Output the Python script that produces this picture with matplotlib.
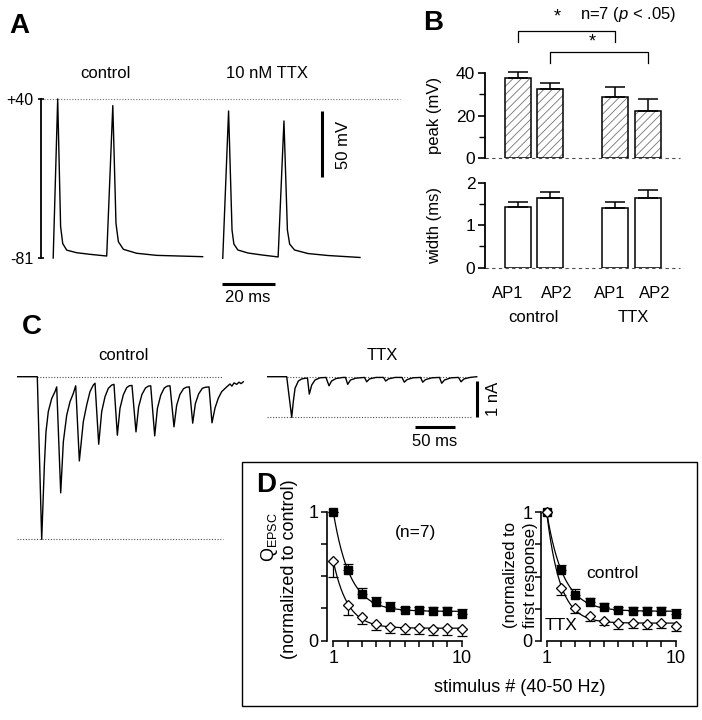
import numpy as np
import matplotlib
matplotlib.use("Agg")
import matplotlib.pyplot as plt
from matplotlib.patches import Rectangle

plt.rcParams['font.family'] = ['Liberation Sans', 'DejaVu Sans']
plt.rcParams['mathtext.fontset'] = 'custom'
plt.rcParams['mathtext.rm'] = 'Liberation Sans'
plt.rcParams['mathtext.it'] = 'Liberation Sans:italic'
plt.rcParams['hatch.linewidth'] = 0.6

# ---------------- data ----------------
# A: action potentials (time ms, membrane potential mV)
a_ctrl_t = [4.6, 6.3, 7.4, 8.2, 9.7, 13.5, 18.5, 24.8, 27.1, 28.3, 29.2, 31.1, 36.1, 43.7, 61.0]
a_ctrl_v = [-81, 40, -57, -70, -75, -77, -78.2, -79.5, 35.0, -54.6, -68.6, -74.4, -77.4, -79.0, -80.0]
a_ttx_t = [68.6, 70.8, 72.1, 72.8, 74.3, 78.1, 83.4, 89.5, 91.7, 93.0, 93.85, 95.7, 100.75, 108.3, 120.4]
a_ttx_v = [-81.2, 30.9, -59.7, -70.4, -74.9, -77.2, -78.7, -80.2, 23.3, -59.7, -70.4, -74.9, -77.6, -79.1, -80.6]
a_ticks = [-81, 40]
a_tick_labels = ['-81', '+40']

# B: AP peak and width
b_labels = ['AP1', 'AP2', 'AP1', 'AP2']
b_groups = ['control', 'TTX']
b_peak = [37.5, 32.3, 28.5, 22.1]
b_peak_err = [3.2, 2.8, 5.1, 5.7]
b_width = [1.42, 1.63, 1.41, 1.65]
b_width_err = [0.12, 0.14, 0.14, 0.18]

# C: EPSC trains (time ms, current nA)
c_ctrl_t = [0, 25.75, 31.25, 34.6, 36.6, 39.5, 43.75, 47.9, 50.0,
            55.0, 58.3, 62.5, 66.6, 70.75, 73.75,
            78.3, 83.25, 87.5, 91.6, 95.75, 97.9,
            102.5, 106.25, 110.4, 114.5, 118.75, 121.6,
            125.8, 129.1, 133.25, 137.5, 140.75, 144.1,
            149.1, 152.4, 156.5, 161.0, 164.5, 167.5,
            172.5, 175.8, 180.0, 184.5, 188.0, 191.6,
            196.6, 199.9, 204.0, 208.5, 212.0, 215.75,
            220.0, 223.3, 227.5, 232.0, 236.0, 240.4,
            244.1, 247.9, 252.0, 256.25, 262.5, 266.6, 269.0, 271.6, 275.0, 277.9, 280.4, 283.25]
c_ctrl_i = [0, 0, -4.48, -2.43, -1.52, -0.96, -0.60, -0.41, -0.28,
            -3.20, -1.79, -1.06, -0.69, -0.46, -0.25,
            -2.32, -1.24, -0.78, -0.41, -0.23, -0.18,
            -1.86, -0.96, -0.55, -0.32, -0.23, -0.21,
            -1.61, -0.87, -0.50, -0.30, -0.25, -0.24,
            -1.52, -0.83, -0.49, -0.31, -0.26, -0.25,
            -1.63, -0.88, -0.51, -0.31, -0.26, -0.25,
            -1.38, -0.79, -0.49, -0.33, -0.29, -0.28,
            -1.28, -0.74, -0.47, -0.32, -0.29, -0.28,
            -1.27, -0.86, -0.59, -0.41, -0.28, -0.20, -0.26, -0.17, -0.21, -0.15, -0.19, -0.14]
c_ttx_t = [0, 25.0, 31.25, 33.25, 35.4, 39.5, 43.75, 49.1, 51.0,
           53.25, 56.25, 60.4, 66.6, 74.1,
           77.9, 81.0, 86.6, 95.4, 98.5,
           101.25, 104.75, 111.6, 122.25,
           125.0, 128.5, 136.6, 146.0,
           148.75, 152.25, 160.4, 169.1,
           172.0, 175.4, 182.9, 192.25,
           195.0, 198.5, 206.6, 216.0,
           218.75, 222.25, 230.4, 239.75,
           242.9, 246.6, 254.1, 262.5]
c_ttx_i = [0, 0, -1.12, -0.69, -0.32, -0.12, -0.06, -0.04, -0.04,
           -0.48, -0.23, -0.09, -0.03, -0.02,
           -0.25, -0.12, -0.05, -0.02, -0.02,
           -0.21, -0.09, -0.04, -0.02,
           -0.14, -0.06, -0.02, -0.02,
           -0.12, -0.06, -0.02, -0.02,
           -0.15, -0.08, -0.03, -0.02,
           -0.15, -0.08, -0.03, -0.02,
           -0.18, -0.09, -0.03, -0.02,
           -0.14, -0.06, -0.02, 0]

# D: normalized EPSC charge
d_stim = [1, 2, 3, 4, 5, 6, 7, 8, 9, 10]
dl_ctrl = [1.0, 0.548, 0.360, 0.300, 0.261, 0.238, 0.235, 0.232, 0.232, 0.204]
dl_ctrl_err = [0, 0.047, 0.047, 0.040, 0.042, 0.026, 0.029, 0.031, 0.029, 0.044]
dl_ttx = [0.621, 0.277, 0.183, 0.133, 0.107, 0.099, 0.099, 0.091, 0.097, 0.091]
dl_ttx_err = [0.125, 0.081, 0.057, 0.047, 0.047, 0.044, 0.047, 0.044, 0.050, 0.052]
dr_ctrl = [1.0, 0.547, 0.357, 0.305, 0.260, 0.240, 0.234, 0.234, 0.234, 0.208]
dr_ctrl_err = [0, 0.044, 0.044, 0.031, 0.032, 0.020, 0.026, 0.026, 0.026, 0.037]
dr_ttx = [1.0, 0.409, 0.258, 0.193, 0.154, 0.141, 0.141, 0.128, 0.135, 0.115]
dr_ttx_err = [0, 0.052, 0.044, 0.039, 0.032, 0.050, 0.045, 0.039, 0.039, 0.037]

# ---------------- layout helpers ----------------
W, H = 702, 720
fig = plt.figure(figsize=(W / 100, H / 100), dpi=100)


def axes_px(left, top, right, bottom):
    return fig.add_axes([left / W, 1 - bottom / H, (right - left) / W, (bottom - top) / H])


def text_px(x, y, s, **kw):
    kw.setdefault('ha', 'center')
    kw.setdefault('va', 'center')
    kw.setdefault('fontsize', 12)
    fig.text(x / W, 1 - y / H, s, **kw)


def exp_fit(x, y):
    x = np.asarray(x, float)
    y = np.asarray(y, float)
    best = None
    for tau in np.linspace(0.3, 4.0, 371):
        e = np.exp(-(x - 1) / tau)
        M = np.vstack([e, np.ones_like(e)]).T
        coef = np.linalg.lstsq(M, y, rcond=None)[0]
        err = np.sum((M @ coef - y) ** 2)
        if best is None or err < best[0]:
            best = (err, tau, coef)
    _, tau, (a, c) = best
    xx = np.linspace(1, 10, 200)
    return xx, a * np.exp(-(xx - 1) / tau) + c


# ---------------- panel A ----------------
axA = axes_px(41, 99, 400, 258)
axA.set_xlim(0, 135.5)
axA.set_ylim(-81, 40)
for s in ['top', 'right', 'bottom']:
    axA.spines[s].set_visible(False)
axA.spines['left'].set_linewidth(1.3)
axA.set_xticks([])
axA.set_yticks(a_ticks)
axA.set_yticklabels(a_tick_labels, fontsize=11.5)
axA.tick_params(axis='y', direction='inout', length=5, width=1.2, pad=3)
axA.patch.set_visible(False)
axA.plot([1.1, 135.5], [40, 40], ls=(0, (1, 1.5)), color='0.45', lw=0.8, clip_on=False)
axA.plot(a_ctrl_t, a_ctrl_v, color='black', lw=1.0, clip_on=False)
axA.plot(a_ttx_t, a_ttx_v, color='black', lw=1.0, clip_on=False)
axA.plot([106, 106], [31, -19], color='black', lw=2.2, clip_on=False, solid_capstyle='butt')
axA.plot([68.3, 88.3], [-100.8, -100.8], color='black', lw=2.2, clip_on=False, solid_capstyle='butt')
text_px(19, 26, 'A', fontsize=20, fontweight='bold')
text_px(105, 74, 'control')
text_px(267, 74, '10 nM TTX')
text_px(343, 145, '50 mV', rotation=90)
text_px(248, 297, '20 ms')

# ---------------- panel B ----------------
bx = [0, 1, 3, 4]
axB1 = axes_px(485, 73, 680, 158)
axB2 = axes_px(485, 182.7, 680, 267.7)
for ax, vals, errs, ylim, major, minor, hatch in [
        (axB1, b_peak, b_peak_err, 40, [0, 20, 40], [10, 30], '////'),
        (axB2, b_width, b_width_err, 2, [0, 1, 2], [0.5, 1.5], None)]:
    ax.set_xlim(-1, 5)
    ax.set_ylim(0, ylim)
    for s in ['top', 'right', 'bottom']:
        ax.spines[s].set_visible(False)
    ax.spines['left'].set_linewidth(1.3)
    ax.set_xticks([])
    ax.set_yticks(major)
    ax.set_yticklabels([str(m) for m in major], fontsize=12.5)
    ax.set_yticks(minor, minor=True)
    ax.tick_params(axis='y', which='major', direction='out', length=5, width=1.2, pad=2)
    ax.tick_params(axis='y', which='minor', direction='out', length=4, width=1.0)
    ax.patch.set_visible(False)
    ax.plot([-1, 5], [0, 0], ls=(0, (3, 3)), color='0.3', lw=0.8, clip_on=False)
    if hatch:
        ax.bar(bx, vals, width=0.8, color='none', edgecolor='0.45', lw=0, hatch=hatch)
    ax.bar(bx, vals, width=0.8, color='none', edgecolor='black', lw=1.1)
    ax.errorbar(bx, vals, yerr=[[0] * 4, errs], fmt='none', ecolor='black',
                elinewidth=1.1, capsize=7.5, capthick=1.1, clip_on=False)
# significance brackets
axB1.plot([bx[0], bx[0], bx[2], bx[2]], [54.6, 59.8, 59.8, 54.6], color='black', lw=0.9, clip_on=False)
axB1.plot([bx[1], bx[1], bx[3], bx[3]], [44.7, 49.9, 49.9, 44.7], color='black', lw=0.9, clip_on=False)
text_px(433, 23, 'B', fontsize=20, fontweight='bold')
text_px(557, 17, '*', fontsize=13)
text_px(580, 15, 'n=7 ($p$ < .05)', ha='left')
text_px(592, 42, '*', fontsize=13)
text_px(435, 115, 'peak (mV)', rotation=90)
text_px(435, 225, 'width (ms)', rotation=90)
for xpos, lab in zip([508, 557, 610, 655], b_labels):
    text_px(xpos, 294, lab)
text_px(533, 317, b_groups[0])
text_px(633, 317, b_groups[1])

# ---------------- panel C ----------------
axC1 = axes_px(16.7, 370, 250, 545)
axC1.set_xlim(0, 291.6)
axC1.set_ylim(-4.636, 0.185)
axC1.axis('off')
axC1.plot([25.75, 258.25], [0, 0], ls=(0, (1, 1.5)), color='0.3', lw=0.8)
axC1.plot([0, 258.25], [c_ctrl_i[2], c_ctrl_i[2]], ls=(0, (1, 1.5)), color='0.3', lw=0.8)
axC1.plot(c_ctrl_t, c_ctrl_i, color='black', lw=1.0)

axC2 = axes_px(266.7, 370, 490, 450)
axC2.set_xlim(0, 279.1)
axC2.set_ylim(-2.02, 0.185)
axC2.axis('off')
axC2.plot([25, 256.25], [0, 0], ls=(0, (1, 1.5)), color='0.3', lw=0.8)
axC2.plot([0, 256.25], [c_ttx_i[2], c_ttx_i[2]], ls=(0, (1, 1.5)), color='0.3', lw=0.8)
axC2.plot(c_ttx_t, c_ttx_i, color='black', lw=1.0)
axC2.plot([263.25, 263.25], [-0.12, -1.12], color='black', lw=2.2, clip_on=False, solid_capstyle='butt')
axC2.plot([185.4, 235.4], [-1.39, -1.39], color='black', lw=2.2, clip_on=False, solid_capstyle='butt')
text_px(32, 327, 'C', fontsize=20, fontweight='bold')
text_px(123, 355, 'control')
text_px(382, 355, 'TTX')
text_px(494, 399, '1 nA', rotation=90)
text_px(435, 441, '50 ms')

# ---------------- panel D ----------------
overlay = fig.add_axes([0, 0, 1, 1])
overlay.set_xlim(0, W)
overlay.set_ylim(H, 0)
overlay.axis('off')
overlay.add_patch(Rectangle((242, 462), 455, 244, fill=False, edgecolor='black', lw=1.0))


def panel_d(ax, xl, ctrl, ctrl_err, ttx, ttx_err):
    ax.set_xlim(xl, 10.3)
    ax.set_ylim(0, 1)
    ax.patch.set_visible(False)
    for s in ['top', 'right']:
        ax.spines[s].set_visible(False)
    ax.spines['left'].set_linewidth(1.2)
    ax.spines['bottom'].set_linewidth(1.2)
    ax.spines['bottom'].set_bounds(1, 10)
    ax.set_xticks(d_stim)
    ax.set_xticklabels(['1' if v == 1 else ('10' if v == 10 else '') for v in d_stim], fontsize=13)
    ax.set_yticks([0, 1])
    ax.set_yticklabels(['0', '1'], fontsize=13)
    ax.set_yticks([0.25, 0.5, 0.75], minor=True)
    ax.tick_params(axis='both', which='both', direction='out', length=4, width=1.1)
    ax.tick_params(axis='x', pad=3)
    ax.tick_params(axis='y', pad=2)
    fx, fy = exp_fit(d_stim, ctrl)
    ax.plot(fx, fy, color='black', lw=0.9, clip_on=False, zorder=2)
    fx, fy = exp_fit(d_stim, ttx)
    ax.plot(fx, fy, color='black', lw=0.9, clip_on=False, zorder=2)
    ax.errorbar(d_stim, ctrl, yerr=[[0] * 10, ctrl_err], fmt='none', ecolor='black',
                elinewidth=0.9, capsize=3.8, capthick=0.9, clip_on=False, zorder=3)
    ax.errorbar(d_stim, ttx, yerr=[ttx_err, [0] * 10], fmt='none', ecolor='black',
                elinewidth=0.9, capsize=3.8, capthick=0.9, clip_on=False, zorder=3)
    ax.plot(d_stim, ctrl, ls='none', marker='s', ms=5.4, mfc='black', mec='black',
            clip_on=False, zorder=4)
    ax.plot(d_stim, ttx, ls='none', marker='D', ms=4.6, mfc='white', mec='black',
            mew=0.9, clip_on=False, zorder=5)


axDL = axes_px(326.7, 511.7, 466, 640.7)
panel_d(axDL, 0.54, dl_ctrl, dl_ctrl_err, dl_ttx, dl_ttx_err)
axDR = axes_px(541, 512.3, 680, 640.7)
panel_d(axDR, 0.60, dr_ctrl, dr_ctrl_err, dr_ttx, dr_ttx_err)

text_px(266, 485, 'D', fontsize=20, fontweight='bold')
text_px(270, 537, 'Q$_{\\mathrm{EPSC}}$', rotation=90, fontsize=13)
text_px(290, 569, '(normalized to control)', rotation=90, fontsize=13)
text_px(511, 522, '(normalized to', rotation=90, fontsize=12, va='top')
text_px(530, 522, 'first response)', rotation=90, fontsize=12, va='top')
text_px(415, 533, '(n=7)', fontsize=12.5)
text_px(612, 573, 'control', fontsize=12.5)
text_px(561, 626, 'TTX', fontsize=12.5)
text_px(520, 688, 'stimulus # (40-50 Hz)', fontsize=13)

fig.savefig('out.png', dpi=100)
